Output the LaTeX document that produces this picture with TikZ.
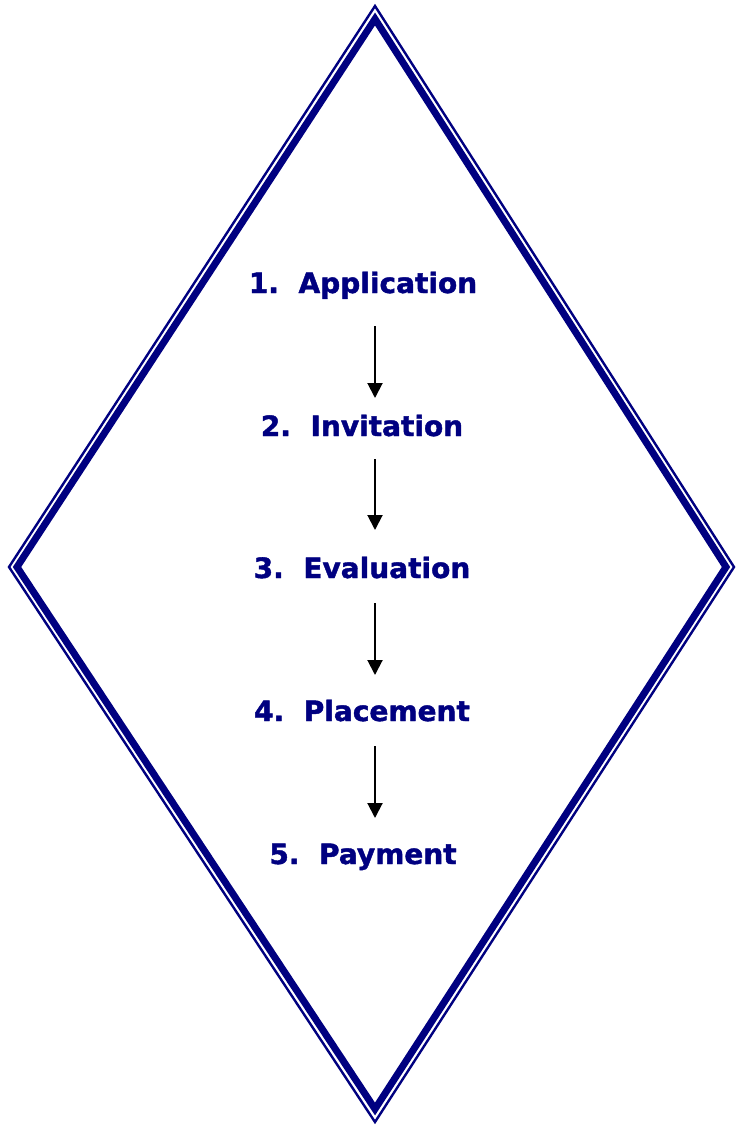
\documentclass[tikz,border=0pt]{standalone}
\usepackage{fontspec}
\setmainfont{DejaVu Sans}[BoldFeatures={FakeBold=1.5}]
\definecolor{navy}{RGB}{0,0,128}
\usetikzlibrary{arrows.meta}
\tikzset{
  stage/.style={font=\fontsize{28}{32}\selectfont\bfseries, text=navy, inner sep=0pt, anchor=base},
  flow/.style={-{Triangle[length=15pt,width=15pt]}, line width=2pt, black},
  thinrim/.style={draw=navy, line width=2.4pt, line join=miter},
  thickrim/.style={draw=navy, line width=7pt, line join=miter}
}
\begin{document}
\begin{tikzpicture}[x=1pt,y=-1pt]
\useasboundingbox (0,0) rectangle (736,1126);
% diamond outline
\draw[thinrim] (375,6) -- (734,567) -- (375,1122) -- (9,567) -- cycle;
\draw[thickrim] (375,19) -- (726,567) -- (375,1109) -- (17,567) -- cycle;
% stages
\node[stage] (s1) at (363,293) {1.\hspace{0.7em}Application};
\node[stage] (s2) at (362,436) {2.\hspace{0.7em}Invitation};
\node[stage] (s3) at (362,578) {3.\hspace{0.7em}Evaluation};
\node[stage] (s4) at (362,721) {4.\hspace{0.7em}Placement};
\node[stage] (s5) at (363,864) {5.\hspace{0.7em}Payment};
% connectors
\coordinate (a1) at (375,326); \coordinate (b1) at (375,398);
\coordinate (a2) at (375,459); \coordinate (b2) at (375,530);
\coordinate (a3) at (375,603); \coordinate (b3) at (375,675);
\coordinate (a4) at (375,746); \coordinate (b4) at (375,818);
\draw[flow] (a1) -- (b1);
\draw[flow] (a2) -- (b2);
\draw[flow] (a3) -- (b3);
\draw[flow] (a4) -- (b4);
\end{tikzpicture}
\end{document}
